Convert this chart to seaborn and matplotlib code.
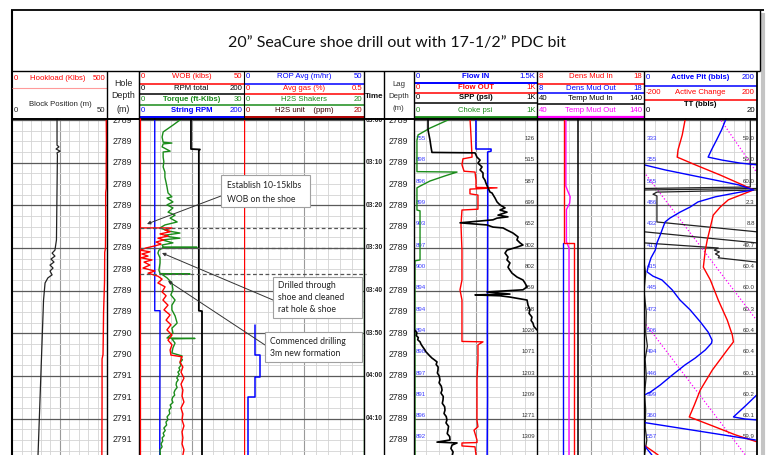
import numpy as np
import pandas as pd
import matplotlib
matplotlib.use("Agg")
import matplotlib.pyplot as plt
from matplotlib.patches import Rectangle
import seaborn as sns

# ---------------- data (time = minutes after 03:00) ----------------
label_times = [0, 5, 10, 15, 20, 25, 30, 35, 40, 45, 50, 55, 60, 65, 70, 75]
hole_depth_labels = ["2789"] * 10 + ["2790"] * 2 + ["2791"] * 4
lag_depth_labels = ["2789"] * 16
time_ticks = [0, 10, 20, 30, 40, 50, 60, 70]
time_labels = ["03:00", "03:10", "03:20", "03:30", "03:40", "03:50", "04:00", "04:10"]
readout_times = [5, 10, 15, 20, 25, 30, 35, 40, 45, 50, 55, 60, 65, 70, 75]
flow_in_readout = [755, 898, 896, 899, 903, 897, 900, 894, 894, 894, 898, 897, 891, 896, 892]
spp_readout = [126, 515, 587, 699, 652, 802, 802, 959, 958, 1026, 1071, 1203, 1209, 1271, 1309]
pit_readout = [333, 355, 565, 486, 432, 417, 415, 445, 472, 506, 494, 446, 399, 360, 557]
tt_readout = ["59.0", "50.0", "60.0", "2.3", "8.8", "49.7", "60.4", "60.0", "60.3",
              "60.4", "60.4", "60.1", "60.2", "60.1", "59.9"]

hookload = [(-0.5, 496), (5, 497), (10, 496), (16, 496), (17, 493), (25, 493), (30, 492),
            (31, 488), (38, 487), (45, 482), (52, 480), (55, 479), (56, 474), (65, 474), (78.5, 473)]
block_pos = [(-0.5, 23.7), (5.9, 23.7), (6.3, 24.7), (6.8, 23.2), (7.3, 25.3), (7.7, 23.7),
             (8.2, 23.9), (28.1, 23.4), (30.5, 22.6), (31.2, 21.1), (31.9, 22.6), (32.6, 20.5),
             (33.3, 22.1), (34.0, 20.0), (34.7, 21.6), (35.4, 20.0), (36.3, 21.1), (37.0, 18.9),
             (38.2, 17.4), (42.2, 16.6), (78.5, 13.7)]
string_rpm = [(-0.5, 30), (44.7, 30), (44.7, 40), (78.5, 39.5)]
rpm_total = [(-0.5, 99), (6.8, 99), (6.9, 116), (7.2, 114), (44.7, 114), (44.8, 120), (78.5, 120)]
torque = [(-0.5, 12.3), (0, 11.7), (1.2, 9.7), (2.8, 6.9), (4.0, 6.6), (5.2, 6.9), (5.4, 9.4),
          (5.6, 6.9), (6.3, 6.6), (7.3, 8.9), (7.5, 6.9), (8.7, 6.9), (9.8, 7.1), (11.0, 6.9),
          (12.2, 7.4), (13.4, 7.4), (14.5, 7.7), (15.7, 8.0), (17.1, 8.3), (18.0, 9.4), (18.3, 8.0),
          (19.2, 9.7), (19.9, 8.0), (20.6, 9.7), (21.6, 8.3), (22.3, 10.3), (23.0, 8.9), (23.9, 10.9),
          (24.6, 7.4), (25.3, 6.0), (26.0, 8.3), (26.5, 11.7), (27.0, 7.4), (27.4, 8.9), (27.7, 11.7),
          (28.1, 6.6), (28.8, 9.7), (29.3, 6.6), (29.8, 6.9), (29.85, 16.6), (29.9, 6.9), (30.5, 5.7),
          (31.2, 5.4), (32.3, 6.0), (33.5, 6.0), (35.2, 5.7), (36.0, 6.0), (36.1, 14.6), (36.2, 6.6),
          (37.0, 8.0), (38.2, 9.4), (39.8, 9.7), (41.0, 9.1), (42.2, 10.3), (43.4, 9.4), (44.5, 9.4),
          (45.9, 10.3), (47.6, 10.9), (48.8, 9.4), (49.9, 9.7), (51.1, 8.0), (51.2, 16.0), (51.3, 9.4),
          (52.3, 10.3), (53.4, 9.7), (54.6, 9.4), (55.3, 12.3), (55.8, 12.0), (56.2, 12.4), (56.9, 11.7),
          (57.5, 12.0), (58.1, 11.4), (58.6, 11.7), (59.1, 11.1), (59.6, 11.5), (60.0, 11.1), (60.5, 10.8),
          (60.9, 11.2), (61.5, 10.7), (62.1, 10.6), (62.7, 10.9), (63.3, 10.3), (63.9, 10.0), (64.5, 10.2),
          (65.0, 9.6), (65.6, 9.4), (66.2, 9.7), (66.8, 8.9), (67.4, 9.2), (68.0, 8.6), (68.8, 8.8),
          (69.6, 8.0), (70.2, 8.3), (70.8, 7.7), (71.5, 7.9), (72.2, 7.1), (72.8, 7.5), (73.4, 6.9),
          (74.0, 7.2), (74.5, 6.6), (75.2, 6.8), (75.9, 6.3), (76.6, 6.6), (77.3, 6.0), (78.5, 6.1)]
wob = [(-0.5, 0.2), (25.3, 0.2), (25.31, 15.7), (25.8, 12.4), (26.2, 14.8), (26.7, 10.0), (27.2, 13.8),
       (27.7, 9.0), (28.1, 11.9), (28.6, 8.1), (29.1, 10.5), (29.5, 7.6), (30.0, 3.3), (30.5, 0.5),
       (30.9, 5.2), (31.4, 1.4), (31.9, 4.3), (32.3, 1.0), (32.8, 6.2), (33.3, 2.4), (34.0, 5.2),
       (34.7, 1.9), (35.4, 7.6), (35.9, 4.3), (36.6, 9.0), (37.3, 11.0), (38.2, 9.0), (39.1, 12.4),
       (40.3, 11.0), (41.2, 12.9), (42.2, 11.4), (43.4, 13.8), (44.5, 11.9), (45.7, 14.8), (46.9, 12.9),
       (48.0, 15.2), (49.2, 13.3), (50.4, 15.7), (51.6, 13.8), (52.7, 15.7), (53.9, 14.8), (55.1, 15.2),
       (55.5, 20.5), (56.7, 19.5), (57.9, 20.9), (59.1, 20.0), (60.5, 21.4), (61.9, 20.0), (63.3, 20.9),
       (64.7, 20.5), (66.1, 21.4), (67.5, 20.0), (68.9, 20.9), (70.3, 20.5), (71.7, 21.4), (73.1, 20.5),
       (74.5, 20.9), (75.9, 20.5), (77.3, 21.4), (78.5, 20.9)]
rop = [(48.0, 4.6), (55.1, 4.6), (55.1, 6.7), (60.3, 6.7), (60.3, 4.6), (64.9, 4.6), (64.9, 1.7), (78.5, 1.7)]
h2s_unit = [(-0.5, 0.05), (78.5, 0.05)]
h2s_shakers = [(-0.5, 19.95), (78.5, 19.95)]
flow_in = [(-0.5, 755), (6.8, 755), (6.8, 940), (7.3, 940), (7.5, 898), (20, 899), (35, 897),
           (50, 894), (65, 896), (78.5, 892)]
flow_out = [(-0.5, 455), (3.5, 463), (8.7, 472), (9.1, 398), (10.5, 390), (12.0, 407), (12.2, 496),
            (14.1, 504), (15.8, 504), (15.9, 675), (16.2, 455), (17.3, 455), (17.6, 520), (20.9, 520),
            (21.1, 390), (24.6, 382), (30.5, 390), (37.5, 390), (39.8, 374), (42.2, 390), (46.9, 390),
            (51.9, 390), (52.0, 561), (52.7, 520), (56.2, 520), (60.9, 512), (65.6, 512), (70.3, 512),
            (71.9, 520), (72.7, 488), (75.0, 512), (75.6, 512), (75.7, 390), (76.4, 390), (76.6, 496),
            (78.5, 504)]
spp = [(-0.5, 114), (2.3, 114), (4.7, 130), (6.3, 138), (7.6, 146), (7.7, 496), (8.7, 512), (9.4, 537),
       (10.1, 520), (11.0, 553), (11.7, 537), (12.4, 561), (13.4, 561), (14.1, 577), (14.8, 585),
       (15.9, 602), (16.9, 618), (17.1, 634), (18.3, 659), (19.2, 675), (19.9, 699), (20.6, 740),
       (21.1, 699), (21.6, 756), (22.3, 683), (22.7, 764), (23.0, 675), (23.4, 642), (24.1, 374),
       (24.6, 593), (25.1, 642), (25.3, 724), (25.8, 756), (26.5, 805), (27.4, 846), (28.1, 837),
       (28.8, 862), (29.3, 886), (29.8, 837), (30.5, 756), (31.2, 740), (32.1, 764), (32.8, 756),
       (33.5, 780), (34.5, 764), (35.2, 780), (35.9, 797), (36.8, 837), (37.5, 886), (38.2, 902),
       (39.1, 919), (39.8, 886), (40.3, 593), (40.8, 780), (41.0, 496), (41.2, 699), (41.5, 780),
       (42.2, 919), (43.4, 927), (44.5, 943), (45.3, 935), (46.2, 959), (47.0, 952), (47.6, 967),
       (48.4, 975), (49.2, 999),
       (49.3, 1008), (49.9, 1024), (50.5, 1018), (51.0, 1035), (51.5, 1030), (52.0, 1049), (52.6, 1058),
       (53.2, 1072), (53.9, 1089), (54.3, 1096), (54.6, 1106), (55.2, 1125), (55.8, 1146), (56.2, 1165),
       (56.7, 1187), (57.3, 1180), (57.9, 1196), (58.6, 1195), (59.3, 1190), (60.0, 1205), (60.9, 1211),
       (61.6, 1204), (62.4, 1222), (63.3, 1228), (64.0, 1219), (64.8, 1238), (65.6, 1236), (66.4, 1230),
       (67.2, 1249), (68.0, 1252), (68.8, 1244), (69.5, 1262), (70.3, 1268), (71.0, 1260), (71.8, 1281),
       (72.7, 1276), (73.5, 1270), (74.2, 1290), (75.0, 1293), (75.5, 1187), (75.7, 1350), (76.2, 1309),
       (77.0, 1300), (77.8, 1318), (78.5, 1312)]
choke = [(-0.5, 293), (0, 276), (1.9, 130), (3.5, 33), (4.7, 24), (12.1, 24), (12.2, 350), (13.1, 252),
         (14.3, 130), (15.5, 49), (15.9, 24), (21.1, 24), (21.3, 49), (32.8, 49), (33.0, 8), (78.5, 8)]
dens_in = [(-0.5, 10.5), (28.8, 10.5), (28.8, 11.45), (78.5, 11.45)]
dens_out = [(28.8, 10.4), (78.5, 10.4)]
temp_in = [(-0.5, 78.3), (78.5, 78.3)]
temp_out = [(-0.5, 67.0), (15.5, 67.0), (16.5, 68.5), (18.0, 71.0), (19.5, 70.5), (21.0, 67.5),
            (28.5, 67.5), (30.0, 69.9), (78.5, 69.9)]
active_pit_segments = [
    [(-0.5, 146), (0, 145), (2.3, 138), (4.7, 129), (7.0, 120), (8.7, 114), (9.4, 139), (10.1, 171), (10.5, 200)],
    [(10.5, 0), (11.7, 37.5), (12.9, 82), (14.1, 127), (15.2, 168), (16.4, 195), (16.9, 171), (18.0, 127),
     (19.2, 96), (20.4, 82), (21.6, 64), (23.0, 46), (23.9, 37.5), (25.1, 34), (26.9, 29), (28.8, 23),
     (30.5, 20), (32.3, 12.5), (34.5, 7.1), (35.6, 5.4), (36.6, 16), (37.5, 32), (39.8, 50), (42.2, 64),
     (44.5, 82), (47.3, 100), (49.7, 114), (51.6, 121), (52.3, 120), (53.9, 109), (55.8, 91), (57.4, 73),
     (59.8, 50), (62.1, 29), (63.8, 11), (64.5, 0)],
    [(64.5, 200), (66.8, 182), (69.6, 159), (70.1, 180), (70.3, 200)],
    [(70.9, 0), (75.0, 198)],
    [(76.2, 0), (78.5, 14)],
]
active_change_segments = [
    [(-0.5, -50), (0, -54), (3.5, -64), (7.0, -79), (8.7, -82), (10.5, -18), (12.9, 71), (15.2, 150),
     (16.4, 189), (17.6, 143), (18.7, 100), (20.4, 71), (22.3, 46), (25.1, 36), (28.1, 25), (30.5, 18),
     (34.5, 11), (37.5, 36), (42.2, 64), (46.9, 96), (50.4, 114), (52.0, 118), (53.9, 96), (58.6, 43),
     (63.3, 0), (66.8, -21), (69.6, -39), (71.5, 36), (73.8, 125), (75.4, 200)],
    [(76.2, -200), (78.5, -150)],
]
tt_segments = [
    [(-0.5, 18.9), (15.7, 18.9), (16.05, 0)],
    [(16.05, 20), (16.4, 0)],
    [(16.4, 20), (16.9, 2.3), (17.4, 1.6), (17.8, 2.3), (23.9, 2.3), (26.2, 20)],
    [(26.2, 0), (28.8, 20)],
    [(28.8, 0), (30.0, 13.2), (30.5, 12.5), (30.9, 13.4), (31.4, 12.7), (31.9, 13.4), (32.3, 13.2), (33.3, 20)],
    [(33.3, 0.0), (36, 0.3), (40, 0.0), (45, 0.4), (50, 0.3), (53, 0.6), (56, 0.2), (60, 0.4), (64, 0.1),
     (68, 0.3), (72, 0.2), (75, 0.5), (78.5, 0.1)],
]
pit_trend_segments = [
    [(-0.5, 134), (12.2, 200)],
    [(12.2, 0), (46.9, 200)],
    [(47.3, 0), (78.5, 180)],
]

# ---------------- figure ----------------
sns.set_theme(style="white")
plt.rcParams['font.family'] = ['Liberation Sans', 'DejaVu Sans']
W, H = 769, 455
fig = plt.figure(figsize=(W / 100, H / 100), dpi=100)
fig.patch.set_facecolor('white')
T_TOP, T_BOT = -0.47, 78.52
Y_TOP, Y_BOT = 118, 455
RED, BLUE, GREEN, MAG = '#ff0000', '#0000ff', '#1a8c1a', '#ff00ff'


def pax(x0, x1, y0=Y_TOP, y1=Y_BOT, **kw):
    return fig.add_axes([x0 / W, 1 - y1 / H, (x1 - x0) / W, (y1 - y0) / H], **kw)


def make_track(x0, x1, grid=True):
    ax = pax(x0, x1)
    ax.set_xlim(0, 1)
    ax.set_ylim(T_BOT, T_TOP)
    for s in ax.spines.values():
        s.set_visible(False)
    ax.set_facecolor('white')
    if grid:
        ax.set_yticks(np.arange(0, 80, 10))
        ax.set_yticks(np.arange(0, 80, 2.5), minor=True)
        ax.set_xticks([0.5])
        ax.set_xticks(np.arange(0.1, 1.0, 0.1), minor=True)
        ax.grid(which='minor', color='#d3d3d3', lw=0.6)
        ax.grid(which='major', axis='y', color='#5a5a5a', lw=0.9)
        ax.grid(which='major', axis='x', color='#9a9a9a', lw=0.8)
        ax.set_axisbelow(True)
    else:
        ax.set_xticks([])
        ax.set_yticks([])
    ax.tick_params(which='both', length=0, labelleft=False, labelbottom=False)
    return ax


def curve(ax, lim, pts, color, lw=0.9, ls='-'):
    df = pd.DataFrame(pts, columns=['t', 'v'])
    tw = ax.twiny()
    sns.lineplot(data=df, x='v', y='t', sort=False, estimator=None, ax=tw,
                 color=color, lw=lw, linestyle=ls)
    tw.set_xlim(*lim)
    tw.set_ylim(T_BOT, T_TOP)
    tw.axis('off')
    return tw


ax1 = make_track(12, 107)
axd = make_track(107, 138.5, grid=False)
ax2 = make_track(139, 244)
ax3 = make_track(244, 364)
axt = make_track(364, 384, grid=False)
axl = make_track(384, 413.5, grid=False)
ax4 = make_track(414, 537)
ax5 = make_track(537, 644)
ax6 = make_track(644, 756.5)

# track 1
curve(ax1, (0, 500), hookload, RED, lw=1.0)
curve(ax1, (0, 50), block_pos, '#222222', lw=0.9)
# track 2
curve(ax2, (0, 200), string_rpm, BLUE, lw=1.0)
curve(ax2, (0, 200), rpm_total, 'black', lw=1.3)
curve(ax2, (0, 30), torque, GREEN, lw=1.0)
curve(ax2, (0, 50), wob, RED, lw=1.0)
# track 3
curve(ax3, (0, 20), h2s_unit, RED, lw=1.0)
curve(ax3, (0, 20), h2s_shakers, GREEN, lw=1.0)
curve(ax3, (0, 50), rop, BLUE, lw=1.1)
# track 4
curve(ax4, (0, 1000), choke, GREEN, lw=1.0)
curve(ax4, (0, 1500), flow_in, BLUE, lw=1.1)
curve(ax4, (0, 1000), flow_out, RED, lw=1.0)
spp_lo = [(t, v) for t, v in spp if v < 1000]
spp_hi = [(t, v - 1000) for t, v in spp if v >= 1000]
curve(ax4, (0, 1000), spp_lo, 'black', lw=1.2)
curve(ax4, (0, 1000), spp_hi, 'black', lw=1.2)
# track 5
curve(ax5, (40, 140), temp_in, 'black', lw=1.1)
curve(ax5, (8, 18), dens_out, BLUE, lw=1.0)
curve(ax5, (40, 140), temp_out, MAG, lw=1.0)
curve(ax5, (8, 18), dens_in, RED, lw=1.0)
# track 6
for seg in pit_trend_segments:
    curve(ax6, (0, 200), seg, MAG, lw=0.9, ls=':')
for seg in tt_segments:
    curve(ax6, (0, 20), seg, '#222222', lw=0.9)
for seg in active_change_segments:
    curve(ax6, (-200, 200), seg, RED, lw=1.0)
for seg in active_pit_segments:
    curve(ax6, (0, 200), seg, BLUE, lw=1.0)

# column labels
for t, lab in zip(label_times, hole_depth_labels):
    axd.text(0.5, t, lab, ha='center', va='center', fontsize=6.3, color='#222', clip_on=True)
for t, lab in zip(label_times, lag_depth_labels):
    axl.text(0.5, t, lab, ha='center', va='center', fontsize=6.3, color='#222', clip_on=True)
for t, lab in zip(time_ticks, time_labels):
    axt.text(0.5, t, lab, ha='center', va='center', fontsize=4.8, fontweight='bold', color='#222',
             clip_on=True)
for t, v in zip(readout_times, flow_in_readout):
    ax4.text(0.016, t - 0.7, str(v), ha='left', va='center', fontsize=4.4, color='#3a3aff')
for t, v in zip(readout_times, spp_readout):
    ax4.text(0.985, t - 0.7, str(v), ha='right', va='center', fontsize=4.4, color='#333')
for t, v in zip(readout_times, pit_readout):
    ax6.text(0.027, t - 0.7, str(v), ha='left', va='center', fontsize=4.4, color='#3a3aff')
for t, v in zip(readout_times, tt_readout):
    ax6.text(0.985, t - 0.7, v, ha='right', va='center', fontsize=4.4, color='#333')

# ---------------- overlay: frame, header, annotations ----------------
ov = fig.add_axes([0, 0, 1, 1], zorder=50)
ov.set_xlim(0, W)
ov.set_ylim(H, 0)
ov.axis('off')
ov.patch.set_alpha(0)


def hline(x0, x1, y, color='black', lw=1.0, **kw):
    ov.plot([x0, x1], [y, y], color=color, lw=lw, solid_capstyle='butt', **kw)


def vline(x, y0, y1, color='black', lw=1.0):
    ov.plot([x, x], [y0, y1], color=color, lw=lw, solid_capstyle='butt')


# outer frame and title
ov.plot([763, 763], [13, 455], color='#c4c4c4', lw=3, solid_capstyle='butt')
hline(11, 764, 10, lw=1.3)
vline(11.5, 10, 455, lw=1.5)
vline(760, 10, 71, lw=1.0)
ov.text(397, 43.5, '20\u201d SeaCure shoe drill out with 17-1/2\u201d PDC bit', ha='center', va='center',
        fontsize=11.5, family=['Lato', 'DejaVu Sans'], color='#111')
hline(11, 760, 71, lw=1.0)

FS = 5.6


def hrow(x0, x1, y, lo, name, hi, color, bold=False, name_color=None, line_y=None, lw=1.1):
    ov.text(x0 + 2, y, lo, color=color, fontsize=FS, ha='left', va='center')
    ov.text((x0 + x1) / 2, y, name, color=name_color or color, fontsize=FS, ha='center', va='center',
            fontweight='bold' if bold else 'normal')
    ov.text(x1 - 1.5, y, hi, color=color, fontsize=FS, ha='right', va='center')
    if line_y is not None:
        hline(x0, x1, line_y, color=color, lw=lw)


ROWS = [76.5, 88, 99.5, 111]
LINES = [83.5, 94, 104.5, 117]

# track 1 header
ov.text(14, 79, '0', color=RED, fontsize=FS, ha='left', va='center')
ov.text(58, 79, 'Hookload (Klbs)', color=RED, fontsize=FS, ha='center', va='center')
ov.text(105.5, 79, '500', color=RED, fontsize=FS, ha='right', va='center')
hline(12, 107, 88, color='#ff9a9a', lw=0.8)
ov.text(60, 104, 'Block Position (m)', color='#222', fontsize=FS, ha='center', va='center')
ov.text(14, 111, '0', color='#222', fontsize=FS, ha='left', va='center')
ov.text(105.5, 111, '50', color='#222', fontsize=FS, ha='right', va='center')

# depth header
for y, s in zip([83.5, 95.5, 109], ['Hole', 'Depth', '(m)']):
    ov.text(123, y, s, color='#222', fontsize=6.4, ha='center', va='center')

# track 2 header
hrow(139, 244, ROWS[0], '0', 'WOB (klbs)', '50', RED, line_y=LINES[0])
hrow(139, 244, ROWS[1], '0', 'RPM total', '200', 'black', line_y=LINES[1])
hrow(139, 244, ROWS[2], '0', 'Torque (ft-Klbs)', '30', GREEN, bold=True, line_y=LINES[2])
hrow(139, 244, ROWS[3], '0', 'String RPM', '200', BLUE, bold=True, line_y=LINES[3], lw=1.4)
# track 3 header
hrow(244, 364, ROWS[0], '0', 'ROP Avg (m/hr)', '50', BLUE, line_y=LINES[0])
hrow(244, 364, ROWS[1], '0', 'Avg gas (%)', '0.5', RED, line_y=LINES[1])
hrow(244, 364, ROWS[2], '0', 'H2S Shakers', '20', GREEN, line_y=LINES[2])
hrow(244, 364, ROWS[3], '0', 'H2S unit    (ppm)', '20', '#b00000', name_color='#3a0000',
     line_y=LINES[3], lw=1.4)
# time + lag header
ov.text(374, 96, 'Time', color='#111', fontsize=5.8, fontweight='bold', ha='center', va='center')
for y, s in zip([85, 97, 109], ['Lag', 'Depth', '(m)']):
    ov.text(398.5, y, s, color='#333', fontsize=5.6, ha='center', va='center')
# track 4 header
hrow(414, 537, 76, '0', 'Flow IN', '1.5K', BLUE, bold=True, line_y=82.8, lw=1.4)
hrow(414, 537, 87.3, '0', 'Flow OUT', '1K', RED, bold=True, line_y=93.3)
hrow(414, 537, 97.8, '0', 'SPP (psi)', '1K', 'black', bold=True, line_y=103.3)
hrow(414, 537, 110.5, '0', 'Choke psi', '1K', GREEN, line_y=117, lw=2.0)
# track 5 header
hrow(537, 644, 76, '8', 'Dens Mud In', '18', RED, line_y=84)
hrow(537, 644, 88, '8', 'Dens Mud Out', '18', BLUE, line_y=93)
hrow(537, 644, 98.5, '40', 'Temp Mud In', '140', 'black', line_y=104)
hrow(537, 644, 110.5, '40', 'Temp Mud Out', '140', MAG, line_y=117, lw=1.6)
# track 6 header
hrow(644, 756.5, 77.5, '0', 'Active Pit (bbls)', '200', BLUE, bold=True, line_y=86)
hrow(644, 756.5, 92, '-200', 'Active Change', '200', RED, line_y=100)
ov.text(700, 104, 'TT (bbls)', color='black', fontsize=FS, fontweight='bold', ha='center', va='center')
ov.text(646, 110, '0', color='black', fontsize=FS, ha='left', va='center')
ov.text(755, 110, '20', color='black', fontsize=FS, ha='right', va='center')

# header / track borders
hline(11, 757, 118.5, lw=1.4)
for x in [107, 138.5, 364, 384, 413.5, 537, 644]:
    vline(x, 71, 455, lw=1.0)
vline(139.3, 71, 118, lw=0.8)
vline(244, 71, 118, lw=0.8)
vline(756.8, 71, 455, lw=1.3)
vline(139.6, 118, 455, color=RED, lw=0.9)

# dashed event markers
for y in [228, 248, 274]:
    ov.plot([140, 366], [y, y], color='#555555', lw=0.9, ls=(0, (3, 2)))

# callouts
CF = ['Lato', 'DejaVu Sans']
boxes = [
    ((221, 175, 89, 32), ['Establish 10-15klbs', 'WOB on the shoe'], [186, 199], 227),
    ((273, 277, 89, 41), ['Drilled through', 'shoe and cleaned', 'rat hole & shoe'], [285, 298, 310], 278),
    ((265, 332, 97, 30), ['Commenced drilling', '3m new formation'], [342, 354], 270),
]
arrows = [((221, 196), (147, 224)), ((273, 300), (162, 253)), ((265, 345), (168, 281))]
for (src, dst) in arrows:
    ov.annotate('', xy=dst, xytext=src,
                arrowprops=dict(arrowstyle='-|>', color='#333333', lw=0.7, mutation_scale=5,
                                shrinkA=0, shrinkB=0))
for (x, y, w, h), lines, ys, tx in boxes:
    ov.add_patch(Rectangle((x, y), w, h, facecolor='white', edgecolor='#a0a0a0', lw=0.8, zorder=5))
    for s, yy in zip(lines, ys):
        ov.text(tx, yy, s, fontsize=6.2, family=CF, color='#222', ha='left', va='center', zorder=6)

fig.savefig('out.png', dpi=100, facecolor='white')
